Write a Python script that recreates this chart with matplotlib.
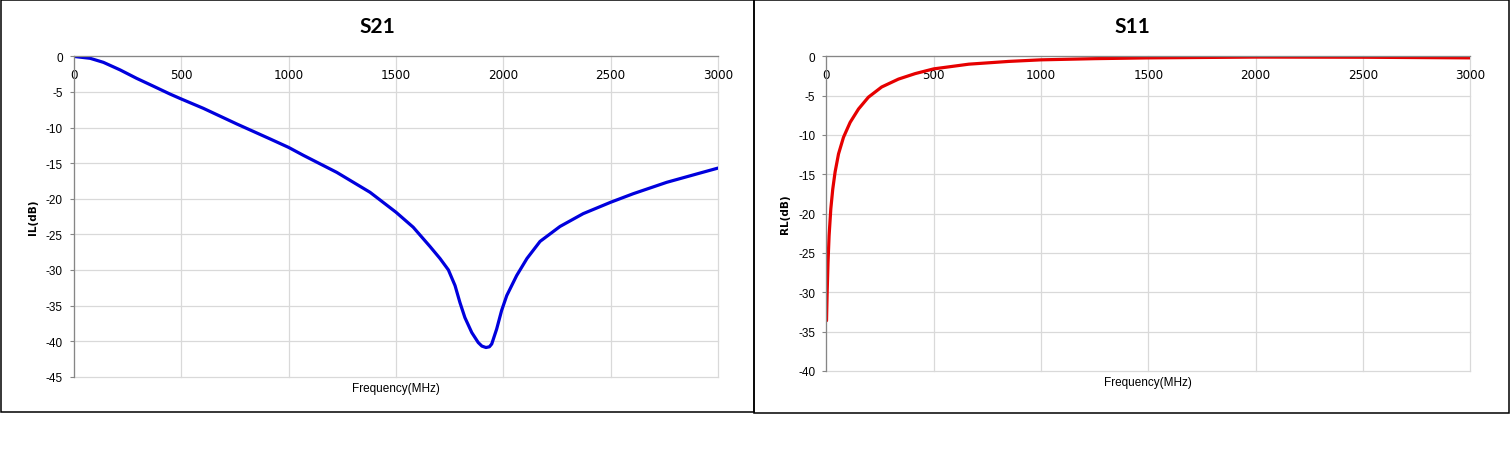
import matplotlib.pyplot as plt
from matplotlib.patches import Rectangle

# S21 (insertion loss)
s21_freq = [0, 75, 137, 214, 292, 370, 447, 500, 602, 758, 913, 1000, 1068, 1224,
            1379, 1500, 1580, 1658, 1705, 1744, 1775, 1798, 1821, 1853, 1883, 1900,
            1919, 1935, 1946, 1969, 1992, 2016, 2062, 2110, 2171, 2264, 2372, 2500,
            2605, 2761, 2916, 3000]
s21_db = [-0.02, -0.28, -0.85, -1.9, -3.1, -4.2, -5.3, -6.0, -7.3, -9.5, -11.6, -12.8,
          -13.9, -16.3, -19.1, -21.9, -24.0, -26.7, -28.4, -30.0, -32.2, -34.6, -36.7,
          -38.8, -40.2, -40.7, -40.9, -40.8, -40.4, -38.3, -35.7, -33.6, -30.8, -28.4,
          -26.0, -23.9, -22.1, -20.5, -19.3, -17.7, -16.4, -15.7]

# S11 (return loss)
s11_freq = [1, 4, 8, 13, 21, 30, 41, 57, 80, 111, 150, 196, 258, 336, 414, 500, 664,
            850, 1000, 1250, 1500, 2000, 2500, 3000]
s11_db = [-33.6, -30.0, -26.2, -22.8, -19.4, -16.9, -14.7, -12.4, -10.3, -8.4, -6.7,
          -5.2, -3.9, -2.9, -2.2, -1.6, -1.0, -0.65, -0.45, -0.3, -0.2, -0.1, -0.12, -0.2]

xticks = [0, 500, 1000, 1500, 2000, 2500, 3000]

plt.rcParams['font.family'] = ['Liberation Sans', 'DejaVu Sans']
plt.rcParams['axes.unicode_minus'] = False

fig = plt.figure(figsize=(15.11, 4.6), dpi=100)
W, H = 1511.0, 460.0

# chart frames
fig.patches.append(Rectangle((0.5 / W, 1 - 413 / H), 753 / W, 412.5 / H,
                             transform=fig.transFigure, fill=False, ec='black', lw=1.1))
fig.patches.append(Rectangle((754 / W, 1 - 414 / H), 755 / W, 413.5 / H,
                             transform=fig.transFigure, fill=False, ec='black', lw=1.1))


def setup(ax, ymin, title, ylabel, title_x):
    ax.set_xlim(0, 3000)
    ax.set_ylim(ymin, 0)
    ax.set_xticks(xticks)
    ax.set_yticks(range(ymin, 1, 5))
    ax.grid(True, color='#d9d9d9', lw=0.9)
    for gl in ax.get_xgridlines() + ax.get_ygridlines():
        gl.set_clip_on(False)
    ax.set_axisbelow(True)
    for s in ['bottom', 'right']:
        ax.spines[s].set_visible(False)
    for s in ['top', 'left']:
        ax.spines[s].set_color('#868686')
        ax.spines[s].set_linewidth(0.9)
    ax.tick_params(axis='y', length=3, color='#868686', pad=5, labelsize=8.5)
    ax.tick_params(axis='x', bottom=False, labelbottom=False, top=True, labeltop=True,
                   length=0, pad=-18, labelsize=9.5)
    for lab in ax.get_xticklabels():
        lab.set_family('DejaVu Sans')
        lab.set_stretch('condensed')
    ax.text(-41 / 644, 0.5, ylabel, transform=ax.transAxes, rotation=90,
            ha='center', va='center', fontsize=7.5, fontweight='bold',
            family=['DejaVu Sans'])
    ax.text(0.5, -0.035, 'Frequency(MHz)', transform=ax.transAxes,
            ha='center', va='center', fontsize=8.5)
    fig.text(title_x / W, 1 - 27 / H, title, ha='center', va='center',
             fontsize=15, fontweight='bold', family=['Lato', 'DejaVu Sans'])


ax1 = fig.add_axes([74 / W, 1 - 377.7 / H, 644 / W, 320.4 / H])
ax1.plot(s21_freq, s21_db, color='#0000dd', lw=2.3, solid_capstyle='round',
         solid_joinstyle='round')
setup(ax1, -45, 'S21', 'IL(dB)', 377)

ax2 = fig.add_axes([826.3 / W, 1 - 372 / H, 644 / W, 314.7 / H])
ax2.plot(s11_freq, s11_db, color='#e60000', lw=2.3, solid_capstyle='round',
         solid_joinstyle='round')
setup(ax2, -40, 'S11', 'RL(dB)', 1132)

fig.savefig('out.png', dpi=100)
